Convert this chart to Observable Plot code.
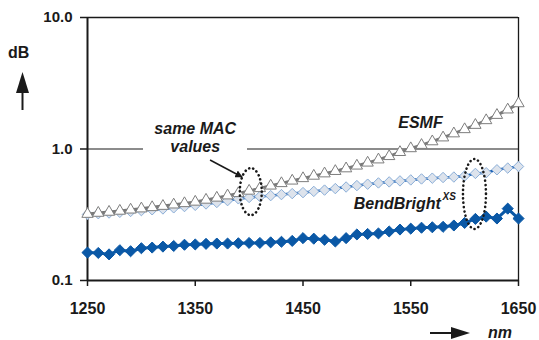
<!DOCTYPE html>
<html><head><meta charset="utf-8">
<script src="https://cdn.jsdelivr.net/npm/d3@7"></script>
<script src="https://cdn.jsdelivr.net/npm/@observablehq/plot@0.6"></script>
<style>
body{margin:0;background:#fff;}
#chart{width:539px;height:340px;}
</style></head><body><div id="chart"></div>
<script>
// ---- data ----
const wavelengths = [1250,1260,1270,1280,1290,1300,1310,1320,1330,1340,1350,1360,1370,1380,1390,1400,1410,1420,1430,1440,1450,1460,1470,1480,1490,1500,1510,1520,1530,1540,1550,1560,1570,1580,1590,1600,1610,1620,1630,1640,1650];
const esmf = [0.320,0.326,0.332,0.338,0.345,0.352,0.360,0.368,0.377,0.386,0.396,0.410,0.425,0.442,0.460,0.480,0.502,0.525,0.548,0.573,0.598,0.624,0.650,0.678,0.710,0.745,0.785,0.830,0.880,0.945,1.01,1.07,1.14,1.22,1.31,1.41,1.52,1.65,1.81,1.99,2.22];
const bendBrightUpper = [0.318,0.322,0.326,0.330,0.335,0.340,0.345,0.350,0.357,0.365,0.373,0.382,0.392,0.405,0.418,0.428,0.435,0.442,0.450,0.458,0.466,0.476,0.487,0.500,0.514,0.527,0.540,0.552,0.562,0.572,0.582,0.592,0.600,0.607,0.612,0.624,0.652,0.660,0.695,0.716,0.736];
const bendBrightLower = [0.163,0.162,0.158,0.170,0.167,0.176,0.178,0.181,0.183,0.187,0.188,0.190,0.191,0.191,0.192,0.193,0.193,0.195,0.197,0.200,0.210,0.208,0.204,0.198,0.210,0.224,0.226,0.228,0.236,0.244,0.248,0.252,0.254,0.256,0.262,0.274,0.294,0.306,0.296,0.352,0.296];
const yTicks = [0.1, 1, 10];
const xTicks = [1250, 1350, 1450, 1550, 1650];
const labels = ["same MAC\nvalues", "ESMF", "BendBright", "XS"];

const rows = (vals) => wavelengths.map((nm, i) => ({nm, v: vals[i]}));
const esmfRows = rows(esmf), upperRows = rows(bendBrightUpper), lowerRows = rows(bendBrightLower);

const font = "'Liberation Sans', Arial, Helvetica, sans-serif";
const ink = "#1a1a1a";

const chart = Plot.plot({
  width: 539, height: 340,
  marginLeft: 87, marginRight: 21, marginTop: 17, marginBottom: 60,
  style: {fontFamily: font, background: "#fff", color: ink, overflow: "visible"},
  x: {domain: [1250, 1650]},
  y: {type: "log", domain: [0.1, 10]},
  marks: [
    // frame / grid
    Plot.ruleY([10], {stroke: ink, strokeWidth: 1.4}),
    Plot.ruleY([{a: 1250, b: 1302}, {a: 1398.5, b: 1650}], {y: () => 1, x1: "a", x2: "b", stroke: ink, strokeWidth: 1.2}),
    Plot.ruleX([1650], {stroke: ink, strokeWidth: 1.3}),
    Plot.ruleX([1250], {stroke: ink, strokeWidth: 2}),
    Plot.ruleY([0.1], {stroke: ink, strokeWidth: 2}),
    Plot.axisY({ticks: yTicks, tickFormat: d => d.toFixed(1), tickSize: 7, tickPadding: 8, fontSize: 15, fontWeight: "bold", label: null, stroke: ink, strokeWidth: 1.5, fill: ink}),
    Plot.axisX({ticks: xTicks, tickFormat: d => String(d), tickSize: 6, tickPadding: 16, fontSize: 16, fontWeight: "bold", label: null, stroke: ink, strokeWidth: 1.5, fill: ink}),
    // series
    Plot.line(lowerRows, {x: "nm", y: "v", stroke: "#0a58a6", strokeWidth: 3}),
    Plot.dot(lowerRows, {x: "nm", y: "v", symbol: "diamond2", r: 5, fill: "#0a58a6", stroke: "#0a58a6", strokeWidth: 1}),
    Plot.line(upperRows, {x: "nm", y: "v", stroke: "#1e63b5", strokeWidth: 2.5}),
    Plot.dot(upperRows, {x: "nm", y: "v", symbol: "diamond2", r: 4.7, fill: "#dde3ec", stroke: "#8aaed8", strokeWidth: 1}),
    Plot.line(esmfRows, {x: "nm", y: "v", stroke: "#7a7a7a", strokeWidth: 3}),
    Plot.dot(esmfRows, {x: "nm", y: "v", symbol: "triangle", r: 4.2, fill: "#fff", stroke: "#7d7d7d", strokeWidth: 1}),
    // annotations
    Plot.text([labels[0]], {x: () => 1350, y: () => 1.633, text: d => d, lineAnchor: "top", lineHeight: 1.125, fontSize: 16, fontWeight: "bold", fontStyle: "italic", fill: ink}),
    Plot.text([labels[1]], {x: () => 1559, y: () => 1.751, text: d => d, lineAnchor: "top", fontSize: 16, fontWeight: "bold", fontStyle: "italic", fill: ink}),
    Plot.text([labels[2]], {x: () => 1578, y: () => 0.425, text: d => d, lineAnchor: "top", textAnchor: "end", fontSize: 16, fontWeight: "bold", fontStyle: "italic", fill: ink}),
    Plot.text([labels[3]], {x: () => 1579.5, y: () => 0.462, text: d => d, lineAnchor: "top", textAnchor: "start", fontSize: 10, fontWeight: "bold", fontStyle: "italic", fill: ink})
  ]
});
document.getElementById("chart").appendChild(chart);

// ---- decorations placed through the scales ----
const svg = d3.select(chart);
const sx = chart.scale("x"), sy = chart.scale("y");
const defs = svg.append("defs");
defs.append("marker").attr("id", "ah").attr("viewBox", "0 0 10 10").attr("refX", 9).attr("refY", 5)
  .attr("markerWidth", 5).attr("markerHeight", 5).attr("orient", "auto-start-reverse")
  .append("path").attr("d", "M0,0L10,5L0,10z").attr("fill", ink);

// same MAC arrow
svg.append("line")
  .attr("x1", sx.apply(1364.2)).attr("y1", sy.apply(0.818))
  .attr("x2", sx.apply(1393.9)).attr("y2", sy.apply(0.607))
  .attr("stroke", ink).attr("stroke-width", 1.5).attr("marker-end", "url(#ah)");

// dotted ellipses
const ellipses = [{x: 1402, y: 0.47, rx: 11, ry: 23.5}, {x: 1609.6, y: 0.451, rx: 11.5, ry: 35}];
for (const e of ellipses) {
  svg.append("ellipse").attr("cx", sx.apply(e.x)).attr("cy", sy.apply(e.y))
    .attr("rx", e.rx).attr("ry", e.ry)
    .attr("fill", "none").attr("stroke", ink).attr("stroke-width", 2.6)
    .attr("stroke-dasharray", "0.1 4.2").attr("stroke-linecap", "round");
}

// axis titles with arrows
svg.append("text").attr("x", 8).attr("y", 58).text("dB").attr("text-anchor", "start")
  .attr("font-family", font).attr("font-size", 16).attr("font-weight", "bold").attr("fill", ink);
svg.append("line").attr("x1", 22.5).attr("y1", 110).attr("x2", 22.5).attr("y2", 90).attr("stroke", ink).attr("stroke-width", 2);
svg.append("path").attr("d", "M16,93L29,93L22.5,72z").attr("fill", ink);

svg.append("line").attr("x1", 430).attr("y1", 333).attr("x2", 454).attr("y2", 333).attr("stroke", ink).attr("stroke-width", 2);
svg.append("path").attr("d", "M451,327L470,333L451,339z").attr("fill", ink);
svg.append("text").attr("x", 488).attr("y", 338).text("nm").attr("text-anchor", "start")
  .attr("font-family", font).attr("font-size", 16).attr("font-weight", "bold").attr("font-style", "italic").attr("fill", ink);
</script>
</body></html>
